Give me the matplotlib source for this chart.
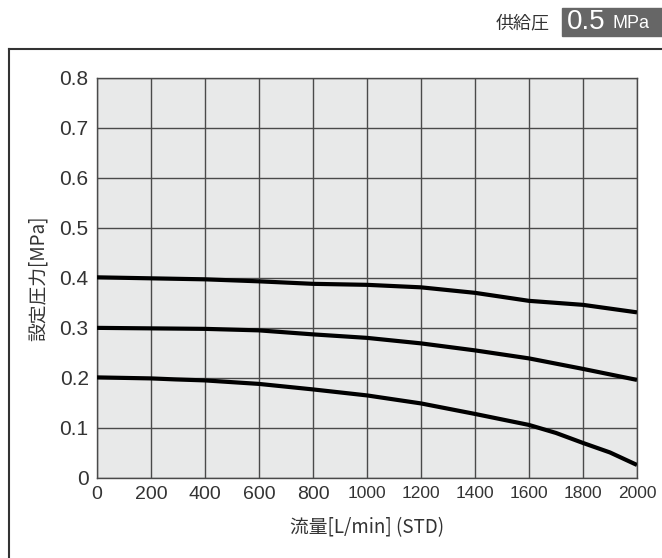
import matplotlib.pyplot as plt
from matplotlib.patches import Rectangle
from matplotlib.lines import Line2D

plt.rcParams['font.family'] = ['Noto Sans CJK JP', 'DejaVu Sans']

# 流量 [L/min] と設定圧力 [MPa]
flow_04 = [0, 200, 400, 600, 800, 1000, 1200, 1400, 1600, 1800, 2000]
p_04 = [0.401, 0.399, 0.397, 0.393, 0.388, 0.386, 0.381, 0.370, 0.354, 0.346, 0.331]

flow_03 = [0, 200, 400, 600, 800, 1000, 1200, 1400, 1600, 1800, 2000]
p_03 = [0.300, 0.299, 0.298, 0.295, 0.287, 0.280, 0.269, 0.255, 0.239, 0.218, 0.196]

flow_02 = [0, 200, 290, 400, 600, 800, 1000, 1200, 1400, 1600, 1700, 1800, 1900, 2000]
p_02 = [0.201, 0.199, 0.197, 0.195, 0.188, 0.177, 0.165, 0.149, 0.128, 0.106, 0.090, 0.070, 0.051, 0.026]

x_ticks = [0, 200, 400, 600, 800, 1000, 1200, 1400, 1600, 1800, 2000]
y_ticks = [0, 0.1, 0.2, 0.3, 0.4, 0.5, 0.6, 0.7, 0.8]
y_labels = ['0', '0.1', '0.2', '0.3', '0.4', '0.5', '0.6', '0.7', '0.8']

num_font = 'Liberation Sans'

fig = plt.figure(figsize=(6.62, 5.58), dpi=100)
ax = fig.add_axes([0.1465, 0.1434, 0.8157, 0.7174])
ax.set_facecolor('#e8e9e9')

for f, p in [(flow_04, p_04), (flow_03, p_03), (flow_02, p_02)]:
    ax.plot(f, p, color='black', lw=3, solid_capstyle='butt', zorder=3)

ax.set_xlim(0, 2000)
ax.set_ylim(0, 0.8)
ax.set_xticks(x_ticks)
ax.set_yticks(y_ticks)
ax.set_yticklabels(y_labels)
ax.grid(True, color='#4a4a4a', lw=1)
ax.tick_params(length=0, labelcolor='#333333')
ax.tick_params(axis='y', labelsize=15, pad=6)
ax.tick_params(axis='x', labelsize=14, pad=6)
for lbl in ax.get_yticklabels() + ax.get_xticklabels():
    lbl.set_family(num_font)
for lbl in ax.get_xticklabels()[5:]:
    lbl.set_fontsize(12.5)
for s in ax.spines.values():
    s.set_color('#4a4a4a')
    s.set_linewidth(1)

ax.set_xlabel('流量[L/min] (STD)', fontsize=13.5, color='#333333', labelpad=10)
ax.set_ylabel('設定圧力[MPa]', fontsize=13.5, color='#333333', labelpad=8)

# 外枠
fig.add_artist(Line2D([9 / 662, 1], [1 - 48.5 / 558] * 2, color='#333333', lw=1.5))
fig.add_artist(Line2D([9 / 662] * 2, [0, 1 - 48.5 / 558], color='#333333', lw=1.5))

# 供給圧ラベル
fig.text(550 / 662, 1 - 23 / 558, '供給圧', fontsize=13, color='#333333', ha='right', va='center')
fig.add_artist(Rectangle((562 / 662, 1 - 36 / 558), 100 / 662, 28 / 558,
                         transform=fig.transFigure, color='#666666'))
fig.text(567 / 662, 1 - 22 / 558, '0.5', fontsize=20, color='white', ha='left', va='center',
         family=num_font)
fig.text(613 / 662, 1 - 23.5 / 558, 'MPa', fontsize=13, color='white', ha='left', va='center',
         family=num_font)

fig.savefig('out.png', dpi=100)
